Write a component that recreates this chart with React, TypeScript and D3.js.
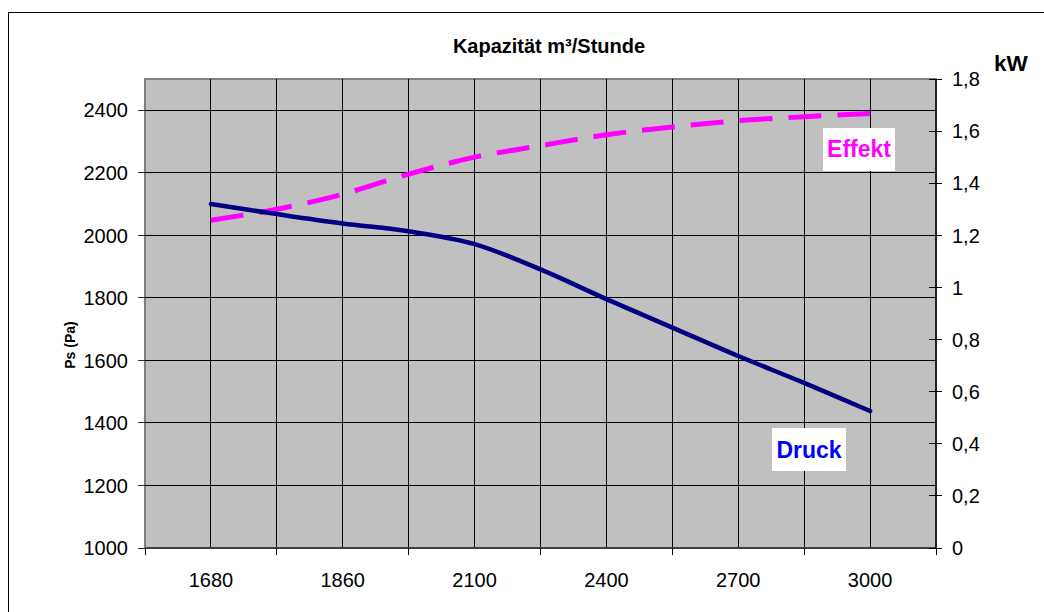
import React from "react";
import * as d3 from "d3";

// Capacity categories (m³/h); only every other one is labelled on the axis
const categories = ["1680", "1770", "1860", "1980", "2100", "2250", "2400", "2550", "2700", "2850", "3000"];
const shownLabels = ["1680", "1860", "2100", "2400", "2700", "3000"];
// Static pressure Ps (Pa) – left axis
const druck = [2100, 2068, 2038, 2013, 1972, 1891, 1796, 1705, 1614, 1528, 1438];
// Power kW – right axis
const effekt = [1.258, 1.3, 1.358, 1.435, 1.5, 1.544, 1.586, 1.616, 1.64, 1.655, 1.668];
const leftTicks = [1000, 1200, 1400, 1600, 1800, 2000, 2200, 2400];
const rightTicks = [0, 0.2, 0.4, 0.6, 0.8, 1, 1.2, 1.4, 1.6, 1.8];

const W = 1044;
const H = 612;
const plot = { left: 145, right: 936, top: 79, bottom: 548 };
const FONT = "'Liberation Sans', Arial, Helvetica, sans-serif";

export default function App() {
  const x = d3
    .scalePoint<string>()
    .domain(categories)
    .range([plot.left, plot.right])
    .padding(1);
  const step = x.step();
  const yL = d3.scaleLinear().domain([1000, 2500]).range([plot.bottom, plot.top]);
  const yR = d3.scaleLinear().domain([0, 1.8]).range([plot.bottom, plot.top]);

  const curve = d3.curveCatmullRom.alpha(0);
  const druckLine = d3
    .line<number>()
    .x((_, i) => x(categories[i]) as number)
    .y((d) => yL(d))
    .curve(curve);
  const effektLine = d3
    .line<number>()
    .x((_, i) => x(categories[i]) as number)
    .y((d) => yR(d))
    .curve(curve);

  const fmtR = (v: number) => d3.format("~g")(+v.toFixed(1)).replace(".", ",");

  const bottomTicks = d3.range(0, 7).map((k) => plot.left + k * 2 * step);
  const vGrid = categories.map((c) => x(c) as number);

  return (
    <svg
      width={W}
      height={H}
      style={{ position: "absolute", left: 0, top: 0, background: "#fff" }}
      fontFamily={FONT}
    >
      {/* outer chart frame */}
      <rect x={8.5} y={12.5} width={1200} height={800} fill="#fff" stroke="#000" strokeWidth={1} />

      {/* plot area */}
      <rect
        x={plot.left}
        y={plot.top}
        width={plot.right - plot.left}
        height={plot.bottom - plot.top}
        fill="#C0C0C0"
        stroke="#808080"
        strokeWidth={2}
      />

      {/* gridlines */}
      <g stroke="#000" strokeWidth={1} shapeRendering="crispEdges">
        {leftTicks
          .filter((t) => t > 1000)
          .map((t) => (
            <line key={"h" + t} x1={plot.left} x2={plot.right} y1={yL(t)} y2={yL(t)} />
          ))}
        {vGrid.map((g, i) => (
          <line key={"v" + i} x1={g} x2={g} y1={plot.top} y2={plot.bottom} />
        ))}
      </g>

      {/* axes lines */}
      <line x1={plot.left} x2={plot.right} y1={plot.bottom} y2={plot.bottom} stroke="#404040" strokeWidth={2} />
      <line x1={plot.right} x2={plot.right} y1={plot.top} y2={plot.bottom} stroke="#000" strokeWidth={1.5} />

      {/* left axis ticks & labels */}
      <g fontSize={20} fill="#000">
        {leftTicks.map((t) => (
          <g key={"l" + t}>
            <line x1={plot.left - 7} x2={plot.left} y1={yL(t)} y2={yL(t)} stroke="#333" strokeWidth={1} shapeRendering="crispEdges" />
            <text x={128} y={yL(t)} dy="0.36em" textAnchor="end">
              {t}
            </text>
          </g>
        ))}
      </g>

      {/* right axis ticks & labels */}
      <g fontSize={20} fill="#000">
        {rightTicks.map((t) => (
          <g key={"r" + t}>
            <line x1={plot.right - 7} x2={plot.right + 6} y1={yR(t)} y2={yR(t)} stroke="#000" strokeWidth={1} shapeRendering="crispEdges" />
            <text x={952} y={yR(t)} dy="0.36em" textAnchor="start">
              {fmtR(t)}
            </text>
          </g>
        ))}
      </g>

      {/* bottom axis ticks & labels */}
      <g>
        {bottomTicks.map((t, i) => (
          <line key={"b" + i} x1={t} x2={t} y1={plot.bottom} y2={plot.bottom + 7} stroke="#000" strokeWidth={1} shapeRendering="crispEdges" />
        ))}
        {shownLabels.map((c) => (
          <text key={"bl" + c} x={x(c)} y={587} textAnchor="middle" fontSize={20} fill="#000">
            {c}
          </text>
        ))}
      </g>

      {/* series */}
      <path d={effektLine(effekt) || ""} fill="none" stroke="#FF00FF" strokeWidth={5} strokeDasharray="33 16" />
      <path d={druckLine(druck) || ""} fill="none" stroke="#000080" strokeWidth={4.5} strokeLinecap="round" />

      {/* series labels */}
      <rect x={823} y={128} width={72} height={43} fill="#fff" />
      <text x={859} y={157} textAnchor="middle" fontSize={23} fontWeight="bold" fill="#FF00FF">
        Effekt
      </text>
      <rect x={772} y={428} width={74} height={43} fill="#fff" />
      <text x={809} y={457.5} textAnchor="middle" fontSize={23} fontWeight="bold" fill="#0000FF">
        Druck
      </text>

      {/* titles */}
      <text x={549} y={53} textAnchor="middle" fontSize={20} fontWeight="bold" fill="#000">
        Kapazität m³/Stunde
      </text>
      <text x={994} y={70.5} fontSize={22.5} fontWeight="bold" fill="#000">
        kW
      </text>
      <text
        transform="translate(75,345) rotate(-90)"
        textAnchor="middle"
        fontSize={14}
        fontWeight="bold"
        fill="#000"
      >
        Ps (Pa)
      </text>
    </svg>
  );
}
